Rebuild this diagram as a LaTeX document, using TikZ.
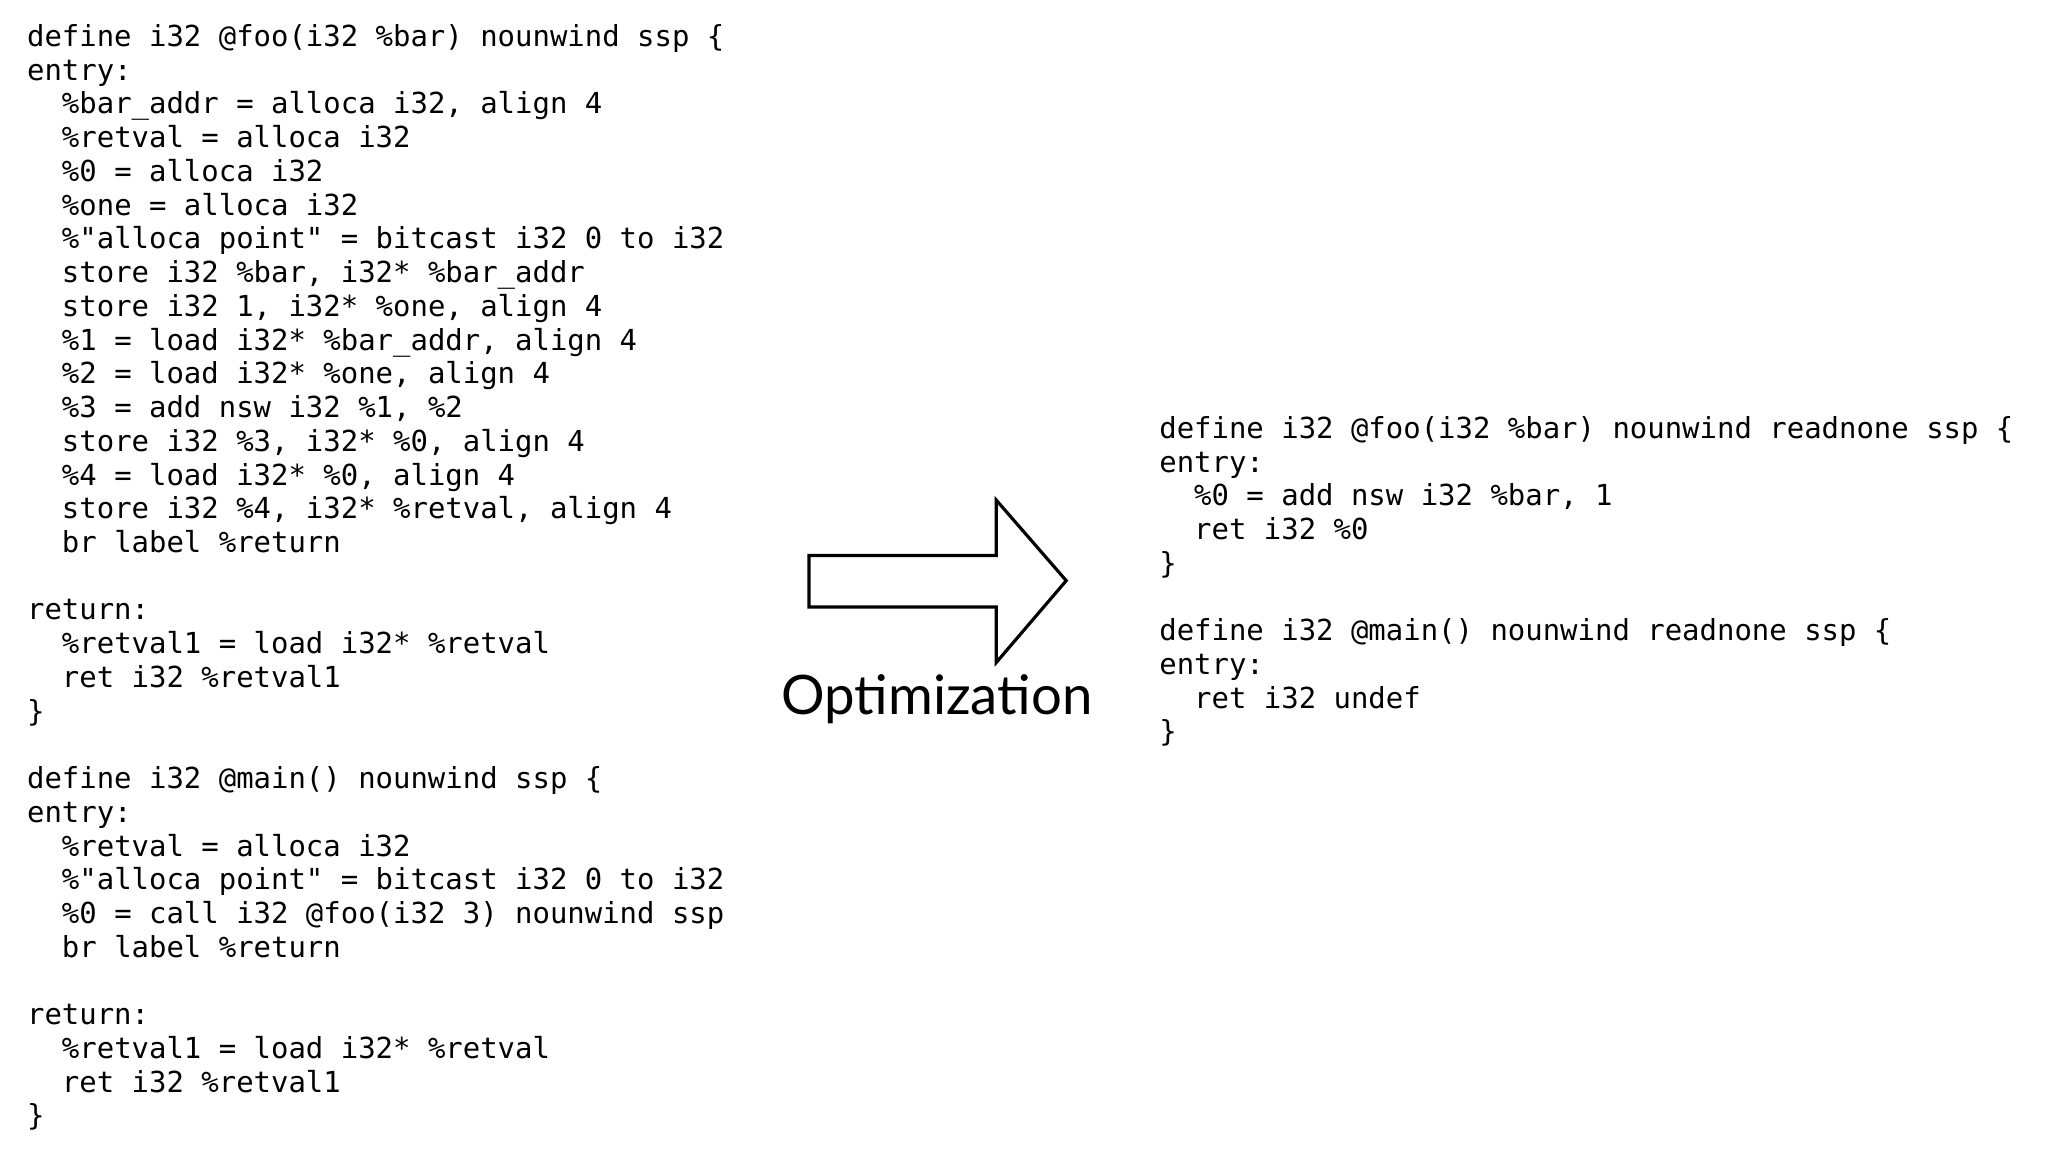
\documentclass[tikz,border=0pt]{standalone}
\usepackage{fontspec}
\setmonofont{DejaVu Sans Mono}
\newfontfamily\optfont{Lato}
\tikzset{
  code/.style={anchor=north west, inner sep=0pt, align=left,
    font=\ttfamily\fontsize{8.24}{9.6}\selectfont},
  bigarrow/.style={draw, line width=0.9pt, fill=white, line join=miter}
}
\newcommand{\ind}{\hspace*{2\fontcharwd\font`0}}
\begin{document}
\begin{tikzpicture}[x=0.013196cm, y=-0.013196cm]
    \useasboundingbox (0,0) rectangle (1552,873);
    \node [code] (before) at (20,18) {%
define i32 @foo(i32 \%bar) nounwind ssp \{\\
entry:\\
\ind\%bar\_addr = alloca i32, align 4\\
\ind\%retval = alloca i32\\
\ind\%0 = alloca i32\\
\ind\%one = alloca i32\\
\ind\%"alloca point" = bitcast i32 0 to i32\\
\ind store i32 \%bar, i32* \%bar\_addr\\
\ind store i32 1, i32* \%one, align 4\\
\ind\%1 = load i32* \%bar\_addr, align 4\\
\ind\%2 = load i32* \%one, align 4\\
\ind\%3 = add nsw i32 \%1, \%2\\
\ind store i32 \%3, i32* \%0, align 4\\
\ind\%4 = load i32* \%0, align 4\\
\ind store i32 \%4, i32* \%retval, align 4\\
\ind br label \%return\\
~\\
return:\\
\ind\%retval1 = load i32* \%retval\\
\ind ret i32 \%retval1\\
\}\\
~\\
define i32 @main() nounwind ssp \{\\
entry:\\
\ind\%retval = alloca i32\\
\ind\%"alloca point" = bitcast i32 0 to i32\\
\ind\%0 = call i32 @foo(i32 3) nounwind ssp\\
\ind br label \%return\\
~\\
return:\\
\ind\%retval1 = load i32* \%retval\\
\ind ret i32 \%retval1\\
\}};
    \node [code] (after) at (878,315) {%
define i32 @foo(i32 \%bar) nounwind readnone ssp \{\\
entry:\\
\ind\%0 = add nsw i32 \%bar, 1\\
\ind ret i32 \%0\\
\}\\
~\\
define i32 @main() nounwind readnone ssp \{\\
entry:\\
\ind ret i32 undef\\
\}};
    \draw [bigarrow] (613,421) -- (755,421) -- (755,379) -- (808,440)
        -- (755,502) -- (755,460) -- (613,460) -- cycle;
    \node [font=\optfont\fontsize{15.5}{18}\selectfont, inner sep=0pt] (opt) at (710,530) {Optimization};
\end{tikzpicture}
\end{document}
